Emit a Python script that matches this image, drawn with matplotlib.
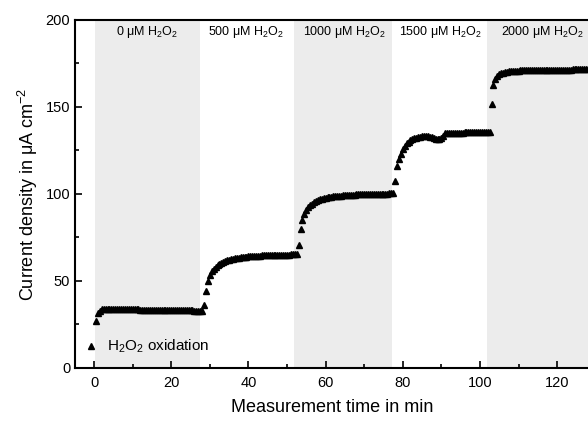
import numpy as np
import matplotlib
matplotlib.use("Agg")
import matplotlib.pyplot as plt
from matplotlib.ticker import MultipleLocator

plt.rcParams["font.family"] = ["Liberation Sans", "DejaVu Sans"]
plt.rcParams["mathtext.default"] = "regular"

# current density (uA cm^-2), one reading every 0.5 min starting at 0.5 min
step_0 = [27.0, 31.5, 33.0, 33.6, 33.9, 34.0, 34.0, 33.9, 33.9,
          33.9, 33.8, 33.8, 33.8, 33.8, 33.7, 33.7, 33.7, 33.7, 33.6,
          33.6, 33.6, 33.6, 33.6, 33.5, 33.5, 33.5, 33.5, 33.5, 33.4,
          33.4, 33.4, 33.4, 33.4, 33.3, 33.3, 33.3, 33.3, 33.3, 33.3,
          33.2, 33.2, 33.2, 33.2, 33.2, 33.2, 33.1, 33.1, 33.1, 33.1,
          33.1, 33.1, 33.0, 33.0, 33.0, 33.0, 33.0]
step_500 = [36.0, 44.4, 50.2, 53.4, 55.5, 57.0, 58.2, 59.1, 59.9, 60.5,
            61.0, 61.5, 61.9, 62.2, 62.5, 62.8, 63.0, 63.2, 63.4, 63.6,
            63.7, 63.8, 64.0, 64.1, 64.2, 64.3, 64.4, 64.5, 64.5, 64.6,
            64.7, 64.7, 64.8, 64.8, 64.9, 64.9, 65.0, 65.0, 65.0, 65.1,
            65.1, 65.1, 65.2, 65.2, 65.2, 65.3, 65.3, 65.3, 65.4]
step_1000 = [70.7, 79.9, 85.0, 88.5, 90.8, 92.4, 93.6, 94.5, 95.3, 95.9,
             96.4, 96.9, 97.3, 97.6, 97.9, 98.1, 98.3, 98.5, 98.7, 98.8,
             98.9, 99.0, 99.1, 99.2, 99.3, 99.4, 99.5, 99.5, 99.6, 99.6,
             99.7, 99.7, 99.8, 99.8, 99.9, 99.9, 99.9, 100.0, 100.0, 100.0,
             100.1, 100.1, 100.1, 100.2, 100.2, 100.2, 100.2, 100.3, 100.3, 100.3]
step_1500 = [107.7, 116.0, 120.1, 123.0, 125.7, 127.6, 129.0, 130.0, 130.8, 131.4,
             131.9, 132.3, 132.7, 133.0, 133.2, 133.3, 133.4, 133.3, 133.0, 132.5,
             131.9, 131.6, 131.6, 131.8, 132.2, 133.2, 134.9, 135.0, 135.0, 135.1,
             135.1, 135.1, 135.2, 135.2, 135.3, 135.3, 135.4, 135.4, 135.5, 135.5,
             135.5, 135.6, 135.5, 135.6, 135.7, 135.6, 135.7, 135.8, 135.7, 135.8]
step_2000 = [151.5, 162.4, 165.8, 167.6, 168.7, 169.4, 169.8, 170.1, 170.3, 170.5,
             170.6, 170.7, 170.8, 170.9, 170.9, 171.0, 171.0, 171.1, 171.1, 171.1,
             171.2, 171.2, 171.2, 171.2, 171.3, 171.3, 171.3, 171.3, 171.3, 171.4,
             171.4, 171.4, 171.4, 171.4, 171.4, 171.5, 171.5, 171.5, 171.5, 171.5,
             171.5, 171.5, 171.6, 171.6, 171.6, 171.6, 171.6, 171.6, 171.6, 171.6, 171.6]

current = np.array(step_0 + step_500 + step_1000 + step_1500 + step_2000)
time_min = 0.5 + 0.5 * np.arange(len(current))

# concentration periods (min) and their labels
period_start = [0.3, 27.4, 51.9, 77.3, 101.9]
period_end = [27.4, 51.9, 77.3, 101.9, 130]
period_label = ["0 μM H$_2$O$_2$", "500 μM H$_2$O$_2$", "1000 μM H$_2$O$_2$",
                "1500 μM H$_2$O$_2$", "2000 μM H$_2$O$_2$"]
label_x = [13.7, 39.3, 64.9, 89.9, 116.3]

fig = plt.figure(figsize=(5.88, 4.21), dpi=100)
ax = fig.add_axes([0.1276, 0.126, 0.8744, 0.8266])

for i in range(len(period_start)):
    if i % 2 == 0:
        ax.axvspan(period_start[i], period_end[i], color="#ececec", lw=0, zorder=0)
    ax.text(label_x[i], 193, period_label[i], ha="center", va="center", fontsize=9)

ax.plot(time_min, current, ls="none", marker="^", ms=3.9, color="black",
        label="H$_2$O$_2$ oxidation", zorder=3)

ax.set_xlim(-4.93, 128.3)
ax.set_ylim(0, 200)
ax.xaxis.set_major_locator(MultipleLocator(20))
ax.xaxis.set_minor_locator(MultipleLocator(10))
ax.yaxis.set_major_locator(MultipleLocator(50))
ax.yaxis.set_minor_locator(MultipleLocator(25))
ax.tick_params(which="both", direction="in", labelsize=10.5, width=1.2)
ax.tick_params(which="major", length=5)
ax.tick_params(which="minor", length=3)
ax.tick_params(axis="x", pad=6)
for s in ["left", "bottom", "top"]:
    ax.spines[s].set_linewidth(1.5)
ax.spines["right"].set_visible(False)

ax.set_xlabel("Measurement time in min", fontsize=13, labelpad=6)
ax.set_ylabel("Current density in μA cm$^{-2}$", fontsize=13, labelpad=4)

ax.legend(loc="lower left", bbox_to_anchor=(-0.018, -0.003), frameon=False,
          fontsize=11, handletextpad=0.3, handlelength=1.5, markerscale=1.0)

fig.savefig("out.png", dpi=100)
